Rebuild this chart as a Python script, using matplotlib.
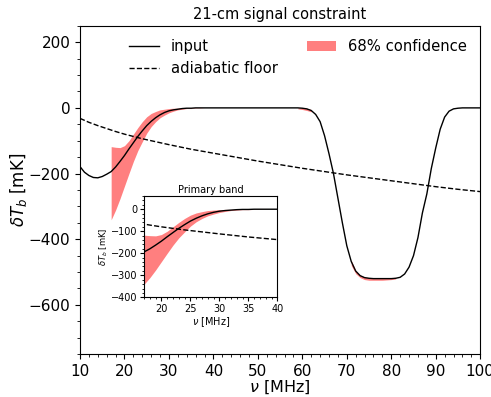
import numpy as np
import matplotlib
matplotlib.use("Agg")
import matplotlib.pyplot as plt
from matplotlib.ticker import MultipleLocator

# input signal (MHz, mK)
freq = np.arange(10, 101)
signal = [
    -179, -196, -206, -212, -213, -209, -202, -194, -180, -163,   # 10-19
    -145, -125, -106, -87, -70, -54, -41, -30, -21, -14,          # 20-29
    -9, -6, -4, -2, -1, -1, 0, 0, 0, 0,                            # 30-39
    0, 0, 0, 0, 0, 0, 0, 0, 0, 0,                                  # 40-49
    0, 0, 0, 0, 0, 0, 0, 0, 0, 0,                                  # 50-59
    -1, -3, -8, -20, -42, -85, -140, -200, -275, -350,             # 60-69
    -420, -468, -497, -511, -517, -519, -520, -520, -520, -520,    # 70-79
    -520, -519, -516, -506, -485, -450, -395, -320, -262, -185,    # 80-89
    -122, -65, -28, -10, -3, -1, 0, 0, 0, 0,                       # 90-99
    0,                                                             # 100
]

# adiabatic floor
floor_freq = [10, 12, 14, 16, 18, 20, 22, 24, 26, 28, 30, 35, 40, 45, 50,
              55, 60, 65, 70, 75, 80, 85, 90, 95, 100]
floor = [-32, -44, -54, -63, -72, -80, -87, -94, -100, -106, -112, -126,
         -138, -150, -162, -173, -184, -194, -204, -213, -222, -231, -240,
         -248, -255]

# 68% confidence band, primary band
band_freq = np.arange(17, 41)
band_hi = [-118, -120, -121, -115, -100, -80, -60, -42, -27, -17, -11, -6,
           -4, -2, -1, -1, 0, 0, 0, 0, 0, 0, 0, 0]
band_lo = [-341, -311, -276, -238, -200, -163, -130, -103, -77, -57, -42,
           -30, -22, -15, -10, -6, -4, -2, -2, -1, -1, 0, 0, 0]

# thin band pieces at the trough
edge_freq = [59, 60, 61, 62]
edge_hi = [0, 0, -1, -5]
edge_lo = [-3, -5, -8, -12]
trough_freq = np.arange(71, 82)
trough_hi = [-464, -495, -509, -515, -517, -517, -517, -517, -517, -517, -516]
trough_lo = [-480, -505, -517, -523, -525, -525, -525, -525, -524, -523, -521]

red = "#ff0000"

fig = plt.figure(figsize=(4.91, 3.97), dpi=100)
ax = fig.add_axes([0.163, 0.108, 0.815, 0.827])

ax.fill_between(band_freq, band_lo, band_hi, color=red, alpha=0.5, lw=0,
                label="68% confidence")
ax.fill_between(edge_freq, edge_lo, edge_hi, color=red, alpha=0.5, lw=0)
ax.fill_between(trough_freq, trough_lo, trough_hi, color=red, alpha=0.5, lw=0)
ax.plot(freq, signal, "k-", lw=1.0, label="input")
ax.plot(floor_freq, floor, "k--", lw=1.0, label="adiabatic floor")

ax.set_xlim(10, 100)
ax.set_ylim(-750, 250)
ax.xaxis.set_major_locator(MultipleLocator(10))
ax.xaxis.set_minor_locator(MultipleLocator(2))
ax.yaxis.set_major_locator(MultipleLocator(200))
ax.yaxis.set_minor_locator(MultipleLocator(50))
ax.tick_params(labelsize=11)
ax.set_xlabel(r"$\nu$ [MHz]", fontsize=11.5, labelpad=0)
ax.set_ylabel(r"$\delta T_b$ [mK]", fontsize=12, labelpad=0)
ax.set_title("21-cm signal constraint", fontsize=10.5, pad=5)

h, l = ax.get_legend_handles_labels()
order = [1, 2, 0]
ax.legend([h[i] for i in order], [l[i] for i in order], loc="upper right",
          ncol=2, frameon=False, fontsize=10.6)

# inset: primary band
ins = fig.add_axes([0.2933, 0.2511, 0.2715, 0.2552])
ins.fill_between(band_freq, band_lo, band_hi, color=red, alpha=0.5, lw=0)
ins.plot(freq, signal, "k-", lw=1.0)
ins.plot(floor_freq, floor, "k--", lw=1.0)
ins.set_xlim(17, 40)
ins.set_ylim(-400, 60)
ins.xaxis.set_major_locator(MultipleLocator(5))
ins.xaxis.set_minor_locator(MultipleLocator(1))
ins.yaxis.set_major_locator(MultipleLocator(100))
ins.yaxis.set_minor_locator(MultipleLocator(20))
ins.tick_params(labelsize=7, pad=1.5)
ins.tick_params(which="major", length=3)
ins.tick_params(which="minor", length=1.5)
ins.set_xlabel(r"$\nu$ [MHz]", fontsize=7, labelpad=1)
ins.set_ylabel(r"$\delta T_b$ [mK]", fontsize=6, labelpad=1)
ins.set_title("Primary band", fontsize=7, pad=2)

fig.savefig("out.png", dpi=100)
